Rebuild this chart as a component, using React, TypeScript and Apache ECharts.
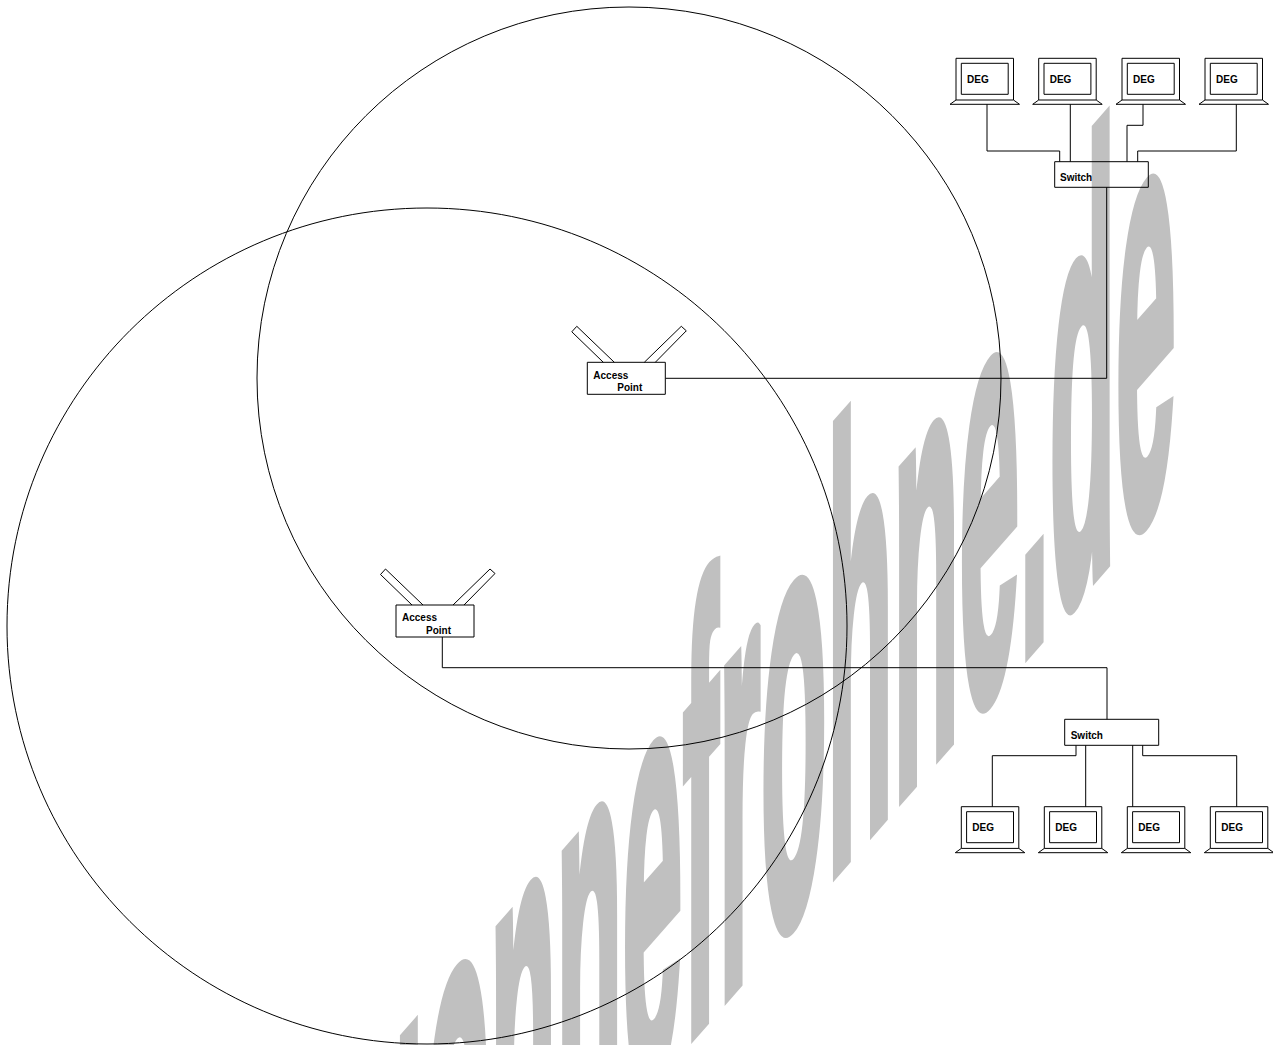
import React, { useEffect, useRef } from "react";
import * as echarts from "echarts";

const deviceLabel = "DEG";
const switchLabel = "Switch";
const accessPointLines = ["Access", "Point"];
const watermarkText = "uonnefrohne.de";

const INK = "#000000";
const FONT = '"Liberation Sans", Arial, sans-serif';

const line = { stroke: INK, lineWidth: 1, fill: "none" };

function poly(points: number[][], closed = false) {
  return {
    type: closed ? "polygon" : "polyline",
    shape: { points },
    style: { ...line },
    silent: true,
    z: 5,
  };
}
function box(x: number, y: number, w: number, h: number) {
  return { type: "rect", shape: { x, y, width: w, height: h }, style: { ...line }, silent: true, z: 5 };
}
function label(text: string, x: number, y: number, size = 10) {
  return {
    type: "text",
    x,
    y,
    style: { text, fill: INK, font: `bold ${size}px ${FONT}`, textAlign: "left", textVerticalAlign: "middle" },
    silent: true,
    z: 6,
  };
}
function laptop(x: number, y: number) {
  const w = 57.5;
  const h = 41.7;
  return [
    box(x, y, w, h),
    box(x + 5.3, y + 5, w - 10.6, 31),
    poly([[x, y + h], [x - 6, y + h + 4.3], [x + w + 6, y + h + 4.3], [x + w, y + h]]),
    label(deviceLabel, x + 11, y + 21),
  ];
}
function accessPoint(x: number, y: number) {
  const w = 78;
  const h = 32;
  return [
    box(x, y, w, h),
    poly([[x + 16, y], [x - 15.5, y - 30.5], [x - 10.5, y - 36], [x + 27, y]]),
    poly([[x + 57, y], [x + 94, y - 36], [x + 99, y - 31.5], [x + 68, y]]),
    label(accessPointLines[0], x + 6, y + 12.7),
    label(accessPointLines[1], x + 30, y + 25),
  ];
}
function svd(a: number, b: number, c: number, d: number) {
  const E = (a + d) / 2, F = (a - d) / 2, G = (c + b) / 2, H = (c - b) / 2;
  const Q = Math.hypot(E, H), R = Math.hypot(F, G);
  const a1 = Math.atan2(G, F), a2 = Math.atan2(H, E);
  return { sx: Q + R, sy: Q - R, theta: (a2 - a1) / 2, phi: (a2 + a1) / 2 };
}
function watermark() {
  const size = 100;
  const pxPerEmX = 108.3;
  const pxPerEmY = 613;
  const slope = -1.14;
  const a = pxPerEmX / size;
  const m = svd(a, 0, slope * a, pxPerEmY / size);
  const originX = 423.7 - 66;
  const originY = 801 - slope * (897 - originX) + 0.1535 * pxPerEmY;
  return {
    type: "group",
    x: originX,
    y: originY,
    rotation: -m.phi,
    scaleX: m.sx,
    scaleY: m.sy,
    silent: true,
    children: [
      {
        type: "text",
        rotation: -m.theta,
        silent: true,
        style: {
          text: watermarkText,
          fill: "#C0C0C0",
          stroke: "#C0C0C0",
          lineWidth: 2.8,
          font: `bold ${size}px ${FONT}`,
          textAlign: "left",
          textVerticalAlign: "bottom",
        },
        z: 1,
      },
    ],
  };
}

const elements: any[] = [
  watermark(),
  { type: "ellipse", shape: { cx: 629, cy: 378, rx: 372, ry: 371 }, style: { ...line }, silent: true, z: 4 },
  { type: "ellipse", shape: { cx: 427, cy: 626, rx: 420, ry: 418 }, style: { ...line }, silent: true, z: 4 },
  ...[956, 1038.7, 1122, 1205].flatMap((x) => laptop(x, 58.3)),
  box(1054.7, 161.7, 93.6, 25.6),
  label(switchLabel, 1060, 177.7),
  poly([[987, 104.3], [987, 151], [1059.7, 151], [1059.7, 161.7]]),
  poly([[1070.3, 104.3], [1070.3, 161.7]]),
  poly([[1143, 104.3], [1143, 125.3], [1127, 125.3], [1127, 161.7]]),
  poly([[1236.3, 104.3], [1236.3, 151], [1137.7, 151], [1137.7, 161.7]]),
  poly([[1106.7, 187.3], [1106.7, 378.3], [665.5, 378.3]]),
  ...accessPoint(587.3, 362.3),
  ...accessPoint(396, 605),
  poly([[442.3, 637], [442.3, 667.7], [1107, 667.7], [1107, 719.3]]),
  box(1064.7, 719.3, 94, 26),
  label(switchLabel, 1070.7, 735.7),
  poly([[1076, 745.3], [1076, 755.7], [992.3, 755.7], [992.3, 806.7]]),
  poly([[1085.7, 745.3], [1085.7, 806.7]]),
  poly([[1132.7, 745.3], [1132.7, 806.7]]),
  poly([[1142.7, 745.3], [1142.7, 755.7], [1236.7, 755.7], [1236.7, 806.7]]),
  ...[961.3, 1044.3, 1127.3, 1210.3].flatMap((x) => laptop(x, 806.7)),
];

export default function App() {
  const ref = useRef<HTMLDivElement>(null);
  useEffect(() => {
    document.body.style.margin = "0";
    document.body.style.overflow = "hidden";
    const chart = echarts.init(ref.current!, undefined, { renderer: "svg" });
    chart.setOption({ animation: false, backgroundColor: "#ffffff", graphic: { elements } });
    return () => chart.dispose();
  }, []);
  return <div ref={ref} style={{ width: 1273, height: 1045 }} />;
}
